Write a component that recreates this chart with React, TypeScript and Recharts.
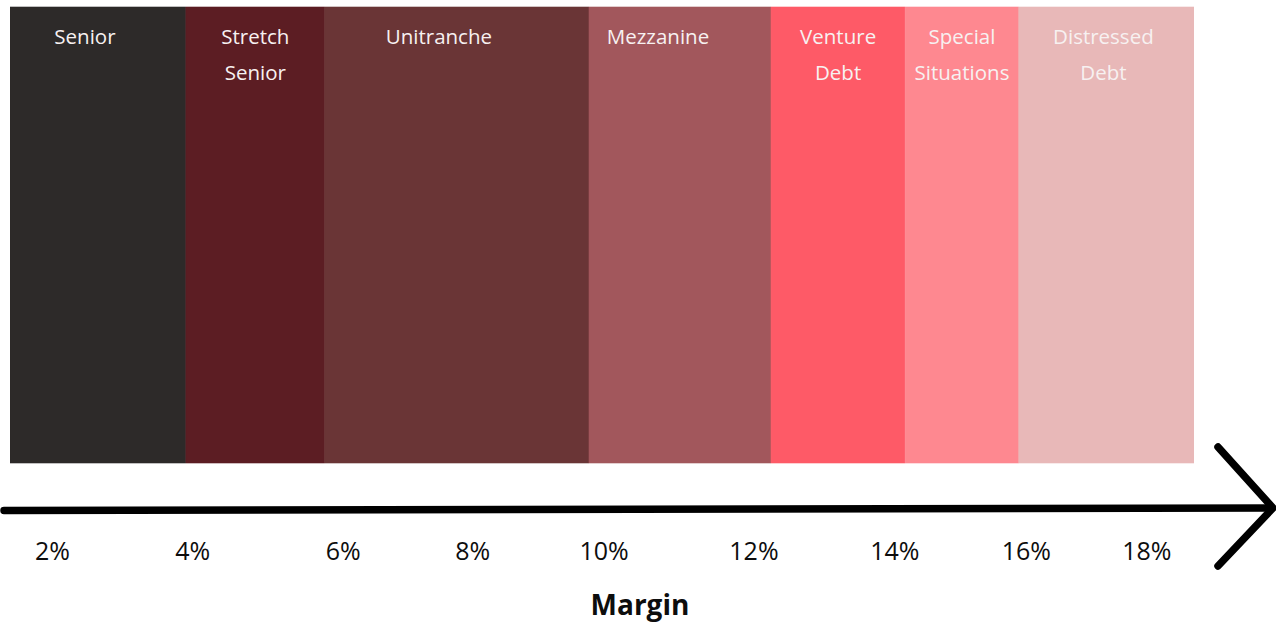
import React from 'react';
import { BarChart, Bar, XAxis, YAxis, LabelList, Label } from 'recharts';

// Credit strategies laid along the margin axis (edges in % margin)
const segmentNames = [
  'Senior',
  'Stretch Senior',
  'Unitranche',
  'Mezzanine',
  'Venture Debt',
  'Special Situations',
  'Distressed Debt',
];
const segmentLines = [
  ['Senior'],
  ['Stretch', 'Senior'],
  ['Unitranche'],
  ['Mezzanine'],
  ['Venture', 'Debt'],
  ['Special', 'Situations'],
  ['Distressed', 'Debt'],
];
const bandEdges = [1.4, 3.97, 6.0, 9.86, 12.52, 14.48, 16.14, 18.7];

// Axis labels and where they sit on the margin scale
const tickLabels = ['2%', '4%', '6%', '8%', '10%', '12%', '14%', '16%', '18%'];
const tickAt = [2.02, 4.07, 6.27, 8.16, 10.08, 12.27, 14.33, 16.25, 18.01];

// Styling
const CHART_W = 1276;
const CHART_H = 623;
const segmentColors = ['#2d2a29', '#5c1d23', '#6a3536', '#a2575c', '#fe5a67', '#fe8890', '#e8b8b8'];
const labelShift = [-13, 0, -18, -22, 0, 0, -3];
const FONT = '"Open Sans", "Noto Sans", sans-serif';

const keys = segmentNames.map((_, i) => `s${i}`);
const row: Record<string, number | string> = { row: 'margin', base: bandEdges[0] };
keys.forEach((k, i) => {
  row[k] = +(bandEdges[i + 1] - bandEdges[i]).toFixed(4);
});
const data = [row];

const makeBlockLabel = (i: number) => (props: any) => {
  const { x, y, width } = props;
  const cx = Number(x) + Number(width) / 2 + labelShift[i];
  return (
    <g>
      {segmentLines[i].map((line, j) => (
        <text
          key={j}
          x={cx}
          y={Number(y) + 37 + j * 36}
          textAnchor="middle"
          fill="#f7f1f1"
          fontFamily={FONT}
          fontSize={20.5}
        >
          {line}
        </text>
      ))}
    </g>
  );
};

const AxisTick = (props: any) => {
  const { x, y, index } = props;
  return (
    <text
      x={x}
      y={Number(y) + 97}
      textAnchor="middle"
      fill="#0d0d0d"
      fontFamily={FONT}
      fontSize={25}
    >
      {tickLabels[index]}
    </text>
  );
};

const AxisTitle = (props: any) => {
  const vb = props.viewBox || {};
  return (
    <text
      x={CHART_W / 2 + 2}
      y={Number(vb.y) + Number(vb.height) - 8}
      textAnchor="middle"
      fill="#0d0d0d"
      fontFamily={FONT}
      fontWeight={700}
      fontSize={28}
    >
      Margin
    </text>
  );
};

export default function App() {
  return (
    <div style={{ position: 'absolute', left: 0, top: 0, width: CHART_W, height: CHART_H, background: '#fff' }}>
      <BarChart
        width={CHART_W}
        height={CHART_H}
        data={data}
        layout="vertical"
        margin={{ top: 7, right: 82, bottom: 0, left: 10 }}
        barCategoryGap={0}
        barGap={0}
      >
        <YAxis type="category" dataKey="row" hide />
        <XAxis
          type="number"
          domain={[bandEdges[0], bandEdges[bandEdges.length - 1]]}
          allowDataOverflow
          ticks={tickAt}
          interval={0}
          height={160}
          axisLine={false}
          tickLine={false}
          tickSize={0}
          tickMargin={0}
          tick={<AxisTick />}
        >
          <Label content={<AxisTitle />} />
        </XAxis>
        <Bar dataKey="base" stackId="m" fill="transparent" isAnimationActive={false} />
        {keys.map((k, i) => (
          <Bar
            key={k}
            dataKey={k}
            name={segmentNames[i]}
            stackId="m"
            fill={segmentColors[i]}
            stroke={segmentColors[i]}
            strokeWidth={0.6}
            isAnimationActive={false}
          >
            <LabelList dataKey={k} content={makeBlockLabel(i)} />
          </Bar>
        ))}
      </BarChart>
      <svg
        width={CHART_W}
        height={CHART_H}
        style={{ position: 'absolute', left: 0, top: 0, pointerEvents: 'none' }}
      >
        <g stroke="#000" strokeWidth={7.5} strokeLinecap="round" strokeLinejoin="round" fill="none">
          <line x1={4} y1={510.5} x2={1272} y2={508} />
          <polyline points="1218,447 1273,508 1218,566" />
        </g>
      </svg>
    </div>
  );
}
